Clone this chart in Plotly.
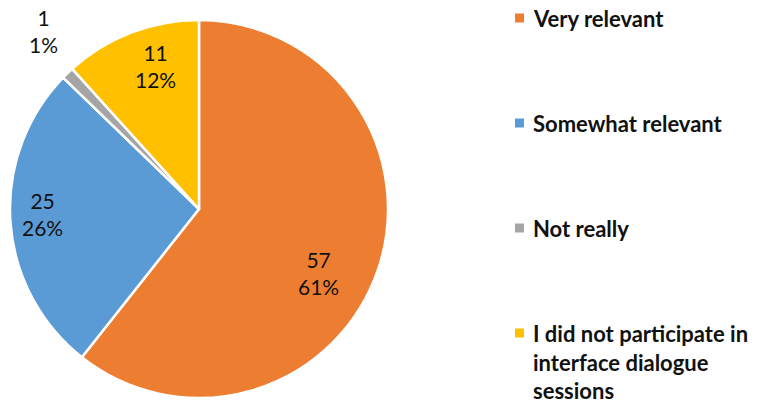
import math
import plotly.graph_objects as go

categories = ["Very relevant", "Somewhat relevant", "Not really",
              "I did not participate in<br>interface dialogue<br>sessions"]
values = [57, 25, 1, 11]
percent_labels = ["61%", "26%", "1%", "12%"]
colors = ["#ED7D31", "#5B9BD5", "#A5A5A5", "#FFC000"]

# label placement style (radius fraction, angle shift in degrees)
label_r = [0.72, 0.83, 1.25, 0.79]
label_shift = [9, 2, 3, 4]

W, H = 766, 407
cx, cy, R = 199, 209, 189  # pixel geometry of the pie

fig = go.Figure()
fig.add_trace(go.Pie(
    labels=categories, values=values, sort=False, direction="clockwise",
    rotation=0,
    marker=dict(colors=colors, line=dict(color="white", width=2.5)),
    textinfo="none",
    showlegend=False,
    domain=dict(x=[(cx - R) / W, (cx + R) / W], y=[1 - (cy + R) / H, 1 - (cy - R) / H]),
    hoverinfo="label+value+percent",
))

# data labels placed at slice angles computed from the values
total = sum(values)
cum = 0
for v, p, rf, sh in zip(values, percent_labels, label_r, label_shift):
    mid = (cum + v / 2) / total * 360 + sh
    cum += v
    a = math.radians(mid)
    px = cx + rf * R * math.sin(a)
    py = cy - rf * R * math.cos(a)
    fig.add_annotation(xref="paper", yref="paper", x=px / W, y=1 - py / H,
                       xanchor="center", yanchor="middle", showarrow=False,
                       text=f"{v}<br>{p}", align="center",
                       font=dict(family="Lato", size=21, color="#111111"))

# custom legend (wide spacing as in reference)
leg_y = [18, 123, 228, 333]
for cat, col, yy in zip(categories, colors, leg_y):
    fig.add_shape(type="rect", xref="paper", yref="paper",
                  x0=515 / W, x1=524 / W, y0=1 - (yy + 4.5) / H, y1=1 - (yy - 4.5) / H,
                  fillcolor=col, line=dict(width=0))
    fig.add_annotation(xref="paper", yref="paper", x=531 / W, y=1 - (yy - 15) / H,
                       xanchor="left", yanchor="top", align="left",
                       text="<b>" + cat + "</b>", showarrow=False,
                       font=dict(family="Lato", size=22, color="#111111"))

fig.update_layout(width=W, height=H, margin=dict(l=0, r=0, t=0, b=0),
                  paper_bgcolor="white", plot_bgcolor="white")
fig.write_html("out.html")
